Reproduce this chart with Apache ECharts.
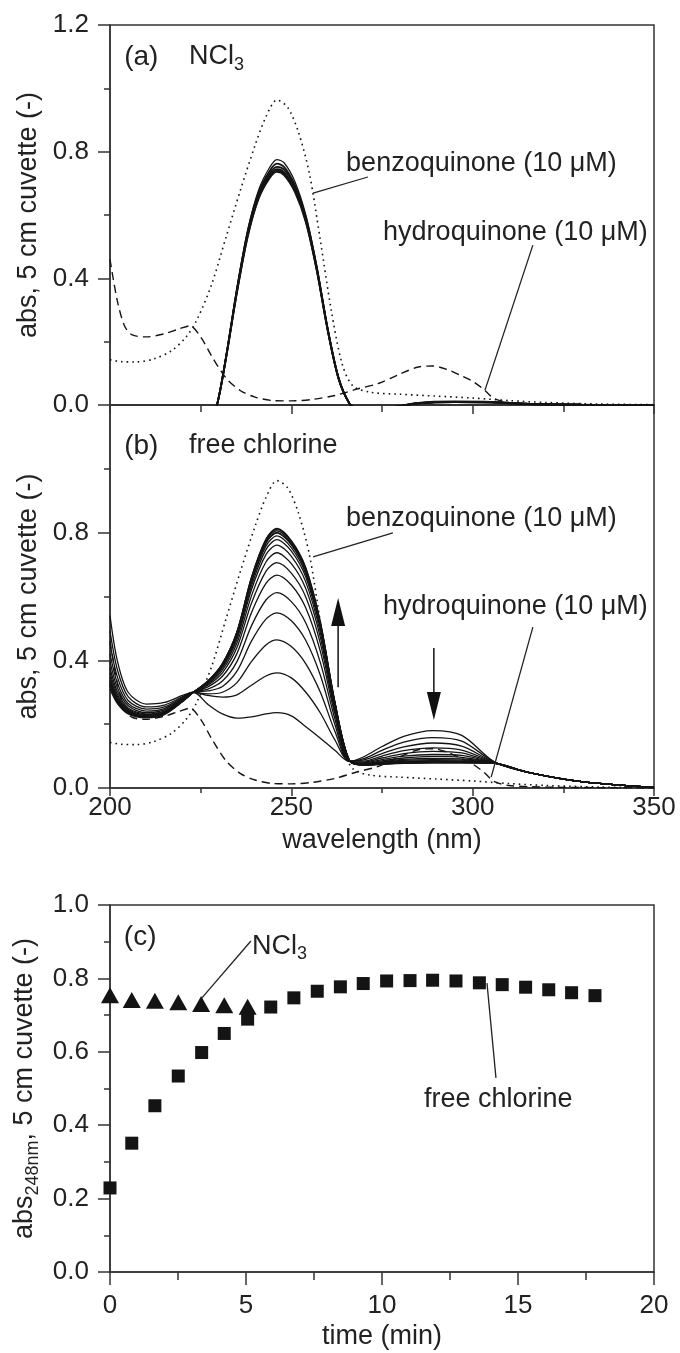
<!DOCTYPE html>
<html><head><meta charset="utf-8">
<script src="https://cdn.jsdelivr.net/npm/echarts/dist/echarts.min.js"></script>
<style>html,body{margin:0;padding:0;background:#fff}#c{width:680px;height:1353px}</style>
</head><body><div id="c"></div>
<script>
// ---------------- data ----------------
// panel (a): NCl3 spectra
const wlA = [226, 229.5, 232, 235, 238, 241, 244, 246, 248, 251, 254, 257, 260, 263, 266, 268, 275, 285, 295, 305, 315, 330, 350];
const nc1 = [-0.12, 0.0, 0.155, 0.37, 0.555, 0.68, 0.75, 0.775, 0.765, 0.705, 0.60, 0.44, 0.245, 0.088, 0.006, -0.01, -0.01, 0.004, 0.008, 0.007, 0.003, 0.001, 0];
const nc2 = [-0.12, 0.0, 0.153, 0.366, 0.55, 0.672, 0.739, 0.762, 0.752, 0.694, 0.594, 0.436, 0.243, 0.087, 0.006, -0.01, -0.01, 0.005, 0.009, 0.008, 0.003, 0.001, 0];
const nc3 = [-0.12, 0.0, 0.152, 0.363, 0.546, 0.666, 0.731, 0.752, 0.743, 0.687, 0.59, 0.433, 0.241, 0.086, 0.005, -0.01, -0.01, 0.005, 0.009, 0.008, 0.003, 0.001, 0];
const nc4 = [-0.12, 0.0, 0.15, 0.36, 0.54, 0.66, 0.725, 0.745, 0.735, 0.68, 0.585, 0.43, 0.24, 0.085, 0.005, -0.01, -0.01, 0.006, 0.01, 0.009, 0.004, 0.001, 0];
const nc5 = [-0.12, 0.0, 0.149, 0.357, 0.536, 0.655, 0.72, 0.74, 0.73, 0.676, 0.58, 0.427, 0.238, 0.084, 0.005, -0.01, -0.01, 0.006, 0.01, 0.009, 0.004, 0.001, 0];
const nc6 = [-0.12, 0.0, 0.148, 0.355, 0.533, 0.652, 0.716, 0.736, 0.726, 0.672, 0.577, 0.425, 0.237, 0.084, 0.005, -0.01, -0.01, 0.007, 0.011, 0.01, 0.004, 0.001, 0];

// panel (b): free chlorine spectra
const wlB = [200, 202, 205, 210, 215, 220, 223, 227, 231, 235, 239, 243, 246, 250, 254, 258, 262, 266, 270, 275, 281, 289, 297, 306, 315, 330, 350];
const fc1 = [0.54, 0.40, 0.30, 0.263, 0.268, 0.29, 0.30, 0.262, 0.232, 0.219, 0.223, 0.232, 0.236, 0.226, 0.192, 0.156, 0.118, 0.083, 0.098, 0.13, 0.162, 0.18, 0.165, 0.082, 0.05, 0.02, 0.002];
const fc2 = [0.492, 0.372, 0.286, 0.254, 0.26, 0.286, 0.30, 0.29, 0.285, 0.292, 0.322, 0.351, 0.361, 0.345, 0.30, 0.235, 0.151, 0.084, 0.092, 0.118, 0.144, 0.158, 0.147, 0.081, 0.05, 0.02, 0.002];
const fc3 = [0.453, 0.349, 0.274, 0.247, 0.254, 0.283, 0.30, 0.295, 0.30, 0.33, 0.396, 0.448, 0.464, 0.443, 0.389, 0.30, 0.178, 0.084, 0.088, 0.108, 0.129, 0.141, 0.131, 0.08, 0.05, 0.02, 0.002];
const fc4 = [0.421, 0.33, 0.265, 0.241, 0.249, 0.28, 0.30, 0.304, 0.318, 0.366, 0.46, 0.529, 0.549, 0.524, 0.462, 0.353, 0.20, 0.085, 0.084, 0.10, 0.117, 0.126, 0.119, 0.08, 0.05, 0.02, 0.002];
const fc5 = [0.397, 0.315, 0.258, 0.236, 0.245, 0.278, 0.30, 0.31, 0.335, 0.396, 0.508, 0.589, 0.612, 0.584, 0.517, 0.393, 0.217, 0.085, 0.081, 0.094, 0.108, 0.115, 0.11, 0.079, 0.05, 0.02, 0.002];
const fc6 = [0.376, 0.303, 0.251, 0.232, 0.241, 0.277, 0.30, 0.317, 0.35, 0.421, 0.549, 0.641, 0.667, 0.636, 0.564, 0.428, 0.232, 0.085, 0.079, 0.089, 0.10, 0.105, 0.102, 0.079, 0.05, 0.02, 0.002];
const fc7 = [0.361, 0.294, 0.247, 0.23, 0.239, 0.275, 0.30, 0.322, 0.361, 0.44, 0.579, 0.679, 0.706, 0.673, 0.598, 0.453, 0.242, 0.085, 0.077, 0.085, 0.094, 0.099, 0.096, 0.079, 0.05, 0.02, 0.002];
const fc8 = [0.349, 0.287, 0.244, 0.227, 0.237, 0.274, 0.30, 0.325, 0.369, 0.454, 0.602, 0.708, 0.737, 0.703, 0.624, 0.472, 0.25, 0.086, 0.075, 0.082, 0.09, 0.093, 0.091, 0.079, 0.05, 0.02, 0.002];
const fc9 = [0.34, 0.282, 0.241, 0.226, 0.235, 0.274, 0.30, 0.328, 0.376, 0.466, 0.621, 0.731, 0.761, 0.726, 0.645, 0.487, 0.256, 0.086, 0.074, 0.08, 0.087, 0.089, 0.088, 0.078, 0.05, 0.02, 0.002];
const fc10 = [0.333, 0.278, 0.239, 0.225, 0.234, 0.273, 0.30, 0.331, 0.38, 0.474, 0.633, 0.747, 0.778, 0.742, 0.66, 0.498, 0.261, 0.086, 0.074, 0.078, 0.084, 0.086, 0.085, 0.078, 0.05, 0.02, 0.002];
const fc11 = [0.329, 0.275, 0.238, 0.224, 0.233, 0.273, 0.30, 0.332, 0.384, 0.479, 0.643, 0.758, 0.79, 0.753, 0.67, 0.505, 0.264, 0.086, 0.073, 0.077, 0.082, 0.084, 0.083, 0.078, 0.05, 0.02, 0.002];
const fc12 = [0.325, 0.273, 0.237, 0.223, 0.233, 0.272, 0.30, 0.333, 0.386, 0.484, 0.65, 0.767, 0.799, 0.762, 0.678, 0.511, 0.266, 0.086, 0.073, 0.076, 0.081, 0.082, 0.082, 0.078, 0.05, 0.02, 0.002];
const fc13 = [0.323, 0.272, 0.236, 0.223, 0.232, 0.272, 0.30, 0.334, 0.388, 0.487, 0.655, 0.773, 0.806, 0.768, 0.684, 0.516, 0.268, 0.086, 0.072, 0.076, 0.08, 0.081, 0.081, 0.078, 0.05, 0.02, 0.002];
const fc14 = [0.321, 0.27, 0.235, 0.222, 0.232, 0.272, 0.30, 0.335, 0.39, 0.489, 0.659, 0.778, 0.811, 0.773, 0.688, 0.519, 0.27, 0.086, 0.072, 0.075, 0.079, 0.08, 0.08, 0.078, 0.05, 0.02, 0.002];
const fc15 = [0.32, 0.27, 0.235, 0.222, 0.232, 0.272, 0.30, 0.335, 0.39, 0.49, 0.66, 0.78, 0.813, 0.775, 0.69, 0.52, 0.27, 0.086, 0.072, 0.075, 0.079, 0.08, 0.08, 0.078, 0.05, 0.02, 0.002];
const fc16 = [0.31, 0.265, 0.232, 0.22, 0.23, 0.27, 0.30, 0.334, 0.386, 0.483, 0.65, 0.768, 0.80, 0.764, 0.68, 0.514, 0.268, 0.086, 0.071, 0.074, 0.077, 0.078, 0.078, 0.077, 0.05, 0.02, 0.002];

// reference spectra (benzoquinone 10 uM dotted, hydroquinone 10 uM dashed)
const wlBQ = [200, 203, 207, 212, 217, 221, 224, 228, 232, 236, 240, 243, 246, 249, 252, 255, 258, 261, 264, 267, 272, 280, 290, 300, 310, 320, 335, 350];
const bqAbs = [0.143, 0.137, 0.136, 0.145, 0.172, 0.215, 0.27, 0.38, 0.53, 0.68, 0.82, 0.91, 0.963, 0.94, 0.86, 0.73, 0.52, 0.30, 0.13, 0.06, 0.04, 0.034, 0.028, 0.022, 0.014, 0.008, 0.003, 0.001];
const wlHQ = [200, 202, 204, 206, 210, 215, 219, 222, 225, 228, 232, 236, 240, 245, 250, 256, 262, 268, 274, 280, 285, 289, 293, 297, 300, 303, 306, 310, 316, 325, 350];
const hqAbs = [0.46, 0.33, 0.25, 0.222, 0.215, 0.225, 0.24, 0.25, 0.215, 0.155, 0.085, 0.045, 0.025, 0.014, 0.013, 0.018, 0.03, 0.05, 0.068, 0.098, 0.12, 0.123, 0.112, 0.092, 0.075, 0.05, 0.02, 0.008, 0.004, 0.002, 0];

// panel (c): abs at 248 nm vs time
const timeFC = [0.0, 0.80, 1.65, 2.51, 3.37, 4.20, 5.06, 5.91, 6.76, 7.62, 8.47, 9.31, 10.17, 11.03, 11.86, 12.72, 13.58, 14.42, 15.28, 16.13, 16.97, 17.83];
const absFC = [0.229, 0.351, 0.453, 0.534, 0.598, 0.650, 0.689, 0.722, 0.747, 0.765, 0.777, 0.786, 0.793, 0.794, 0.795, 0.793, 0.788, 0.783, 0.776, 0.769, 0.761, 0.753];
const timeNC = [0.0, 0.80, 1.65, 2.51, 3.35, 4.20, 5.06];
const absNC = [0.754, 0.741, 0.739, 0.735, 0.730, 0.727, 0.723];

// tick labels
const wlTicks = [200, 250, 300, 350];
const timeTicks = [0, 5, 10, 15, 20];

// ---------------- chart ----------------
const FF = "'Liberation Sans', Arial, Helvetica, sans-serif";
const INK = '#141414';
const AX = '#333';
const ncSpectra = [nc1, nc2, nc3, nc4, nc5, nc6];
const fcSpectra = [fc1, fc2, fc3, fc4, fc5, fc6, fc7, fc8, fc9, fc10, fc11, fc12, fc13, fc14, fc15, fc16];
const pairs = (xs, ys) => xs.map((x, i) => [x, ys[i]]);

function yAxisCfg(gi, max, interval, hideMax, name) {
  return {
    gridIndex: gi, type: 'value', min: 0, max: max, interval: interval,
    axisLine: { show: true, lineStyle: { color: AX, width: 1.5 } },
    axisTick: { show: true, inside: false, length: 12, lineStyle: { color: AX, width: 1.5 } },
    minorTick: { show: true, splitNumber: 2, length: 6, lineStyle: { color: AX, width: 1.5 } },
    splitLine: { show: false },
    axisLabel: { show: true, margin: 21, fontSize: 26, fontFamily: FF, color: '#222',
      showMaxLabel: !hideMax, formatter: v => v.toFixed(1) },
    name: name, nameLocation: 'middle', nameGap: 64, nameRotate: 90,
    nameTextStyle: { fontSize: 27, fontFamily: FF, color: '#222',
      rich: { m: { fontSize: 27, fontFamily: FF, color: '#222' },
              s: { fontSize: 18, fontFamily: FF, color: '#222', padding: [16, 0, 0, 0] } } }
  };
}

function xWave(gi, labels) {
  return {
    gridIndex: gi, type: 'value', min: 200, max: 350, interval: 50,
    axisLine: { show: true, onZero: false, lineStyle: { color: AX, width: 1.5 } },
    axisTick: { show: true, inside: false, length: labels ? 8 : 9, lineStyle: { color: AX, width: 1.5 } },
    minorTick: { show: true, splitNumber: 2, length: labels ? 5 : 7, lineStyle: { color: AX, width: 1.5 } },
    splitLine: { show: false },
    axisLabel: { show: labels, margin: 7, fontSize: 26, fontFamily: FF, color: '#222',
      formatter: v => (wlTicks.indexOf(v) >= 0 ? String(v) : '') },
    name: labels ? 'wavelength (nm)' : '', nameLocation: 'middle', nameGap: 39,
    nameTextStyle: { fontSize: 27, fontFamily: FF, color: '#222' }
  };
}

const series = [];
ncSpectra.forEach((row, k) => series.push({
  type: 'line', xAxisIndex: 0, yAxisIndex: 0, data: pairs(wlA, row),
  showSymbol: false, smooth: 0.3, clip: true, silent: true,
  lineStyle: { color: INK, width: k === 0 ? 1.2 : 1.8 }, z: 3
}));
fcSpectra.forEach(row => series.push({
  type: 'line', xAxisIndex: 1, yAxisIndex: 1, data: pairs(wlB, row),
  showSymbol: false, smooth: 0.3, clip: true, silent: true,
  lineStyle: { color: INK, width: 1.3 }, z: 3
}));
[0, 1].forEach(g => {
  series.push({ type: 'line', xAxisIndex: g, yAxisIndex: g, data: pairs(wlBQ, bqAbs),
    showSymbol: false, smooth: 0.3, clip: true, silent: true,
    lineStyle: { color: INK, width: 1.6, type: [1.6, 4] }, z: 4 });
  series.push({ type: 'line', xAxisIndex: g, yAxisIndex: g, data: pairs(wlHQ, hqAbs),
    showSymbol: false, smooth: 0.3, clip: true, silent: true,
    lineStyle: { color: INK, width: 1.4, type: [8, 5] }, z: 4 });
});
series.push({ type: 'scatter', xAxisIndex: 2, yAxisIndex: 2, data: pairs(timeFC, absFC),
  symbol: 'rect', symbolSize: 13, itemStyle: { color: INK, opacity: 1 }, clip: false, silent: true, z: 5 });
series.push({ type: 'scatter', xAxisIndex: 2, yAxisIndex: 2, data: pairs(timeNC, absNC),
  symbol: 'triangle', symbolSize: [18, 16], itemStyle: { color: INK, opacity: 1 }, clip: false, silent: true, z: 6 });

const gridStyle = { show: true, borderColor: AX, borderWidth: 1.5, backgroundColor: 'transparent', containLabel: false, outerBoundsMode: 'none' };
const option = {
  animation: false,
  backgroundColor: '#fff',
  grid: [
    Object.assign({ left: 110, top: 25, width: 544, height: 380 }, gridStyle),
    Object.assign({ left: 110, top: 405, width: 544, height: 383 }, gridStyle),
    Object.assign({ left: 110, top: 905, width: 544, height: 367 }, gridStyle)
  ],
  xAxis: [
    xWave(0, false),
    xWave(1, true),
    {
      gridIndex: 2, type: 'value', min: 0, max: 20, interval: 5,
      axisLine: { show: true, onZero: false, lineStyle: { color: AX, width: 1.5 } },
      axisTick: { show: true, inside: false, length: 13, lineStyle: { color: AX, width: 1.5 } },
      minorTick: { show: true, splitNumber: 2, length: 8, lineStyle: { color: AX, width: 1.5 } },
      splitLine: { show: false },
      axisLabel: { show: true, margin: 21, fontSize: 26, fontFamily: FF, color: '#222',
        formatter: v => (timeTicks.indexOf(v) >= 0 ? String(v) : '') },
      name: 'time (min)', nameLocation: 'middle', nameGap: 51,
      nameTextStyle: { fontSize: 27, fontFamily: FF, color: '#222' }
    }
  ],
  yAxis: [
    yAxisCfg(0, 1.2, 0.4, false, 'abs, 5 cm cuvette (-)'),
    yAxisCfg(1, 1.2, 0.4, true, 'abs, 5 cm cuvette (-)'),
    yAxisCfg(2, 1.0, 0.2, false, '{m|abs}{s|248nm}{m|, 5 cm cuvette (-)}')
  ],
  series: series
};

const chart = echarts.init(document.getElementById('c'), null, { renderer: 'canvas' });
chart.setOption(option);

// ---------------- annotations (in data coordinates) ----------------
const richNCl = { m: { fontSize: 27, fontFamily: FF, fill: '#222', color: '#222' },
                  s: { fontSize: 18, fontFamily: FF, fill: '#222', color: '#222', padding: [16, 0, 0, 0] } };
const notes = [
  { g: 0, at: [203.9, 1.099], text: '(a)', size: 28 },
  { g: 0, at: [221.8, 1.099], text: '{m|NCl}{s|3}', rich: true },
  { g: 0, at: [265.1, 0.764], text: 'benzoquinone (10 \u03bcM)' },
  { g: 0, at: [275.3, 0.546], text: 'hydroquinone (10 \u03bcM)' },
  { g: 1, at: [203.9, 1.072], text: '(b)', size: 28 },
  { g: 1, at: [221.8, 1.072], text: 'free chlorine' },
  { g: 1, at: [265.1, 0.843], text: 'benzoquinone (10 \u03bcM)' },
  { g: 1, at: [275.3, 0.567], text: 'hydroquinone (10 \u03bcM)' },
  { g: 2, at: [0.51, 0.913], text: '(c)', size: 28 },
  { g: 2, at: [5.22, 0.888], text: '{m|NCl}{s|3}', rich: true },
  { g: 2, at: [11.54, 0.469], text: 'free chlorine' }
];
const leaders = [
  { g: 0, a: [256.0, 0.669], b: [271.1, 0.720] },
  { g: 1, a: [256.0, 0.724], b: [278.0, 0.799] },
  { g: 0, a: [316.6, 0.505], b: [303.4, 0.047] },
  { g: 1, a: [316.6, 0.504], b: [305.1, 0.034] },
  { g: 2, a: [5.18, 0.902], b: [3.38, 0.747] },
  { g: 2, a: [13.86, 0.787], b: [14.19, 0.529] }
];
const arrows = [
  { g: 1, from: [262.9, 0.316], to: [262.9, 0.595] },
  { g: 1, from: [289.3, 0.439], to: [289.3, 0.213] }
];
const px = (g, p) => chart.convertToPixel({ gridIndex: g }, p);
const G = [];
notes.forEach(n => {
  const p = px(n.g, n.at);
  const st = { text: n.text, fill: '#222', fontSize: n.size || 27, fontFamily: FF, align: 'left', verticalAlign: 'middle' };
  if (n.rich) st.rich = richNCl;
  G.push({ type: 'text', x: p[0], y: p[1], style: st, z: 50, silent: true });
});
leaders.forEach(l => {
  const a = px(l.g, l.a), b = px(l.g, l.b);
  G.push({ type: 'line', shape: { x1: a[0], y1: a[1], x2: b[0], y2: b[1] },
    style: { stroke: '#222', lineWidth: 1.3 }, z: 50, silent: true });
});
arrows.forEach(r => {
  const a = px(r.g, r.from), b = px(r.g, r.to);
  const dir = b[1] < a[1] ? -1 : 1;
  const headLen = 28, halfW = 7;
  const baseY = b[1] - dir * headLen;
  G.push({ type: 'line', shape: { x1: a[0], y1: a[1], x2: b[0], y2: baseY },
    style: { stroke: '#111', lineWidth: 1.5 }, z: 50, silent: true });
  G.push({ type: 'polygon', shape: { points: [[b[0] - halfW, baseY], [b[0] + halfW, baseY], [b[0], b[1]]] },
    style: { fill: '#111' }, z: 50, silent: true });
});
chart.setOption({ graphic: G });
</script></body></html>
